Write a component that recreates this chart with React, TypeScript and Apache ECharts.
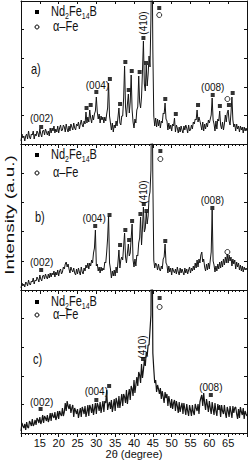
import { useEffect, useRef } from 'react';
import * as echarts from 'echarts';

const X_START = 10;
const X_STEP = 0.25;
const X_MIN = 10;
const X_MAX = 70;

// intensity (a.u.) sampled every 0.25 deg from 10 to 70 (four values per degree)
const intensityA = [
  3, 10, 6, 8, 3, 8, 10, 5, 13, 7, 5, 10, 9, 13, 5, 10, 8, 13, 11, 7,
  15, 10, 7, 13, 14, 9, 15, 12, 9, 13, 8, 16, 11, 16, 13, 18, 11, 15, 12, 18,
  11, 16, 19, 13, 14, 19, 17, 12, 20, 15, 12, 18, 13, 20, 17, 14, 21, 16, 14, 20,
  18, 22, 15, 20, 24, 19, 17, 23, 20, 32, 21, 27, 22, 34, 26, 21, 29, 24, 30, 33,
  47, 32, 25, 30, 21, 28, 24, 27, 21, 27, 23, 30, 36, 61, 28, 21, 14, 21, 12, 19,
  16, 23, 18, 27, 36, 21, 19, 28, 28, 46, 78, 37, 27, 40, 50, 31, 42, 69, 34, 22,
  16, 25, 21, 34, 37, 68, 42, 36, 47, 73, 103, 60, 53, 79, 58, 70, 88, 77, 126, 220,
  95, 28, 18, 26, 17, 25, 18, 24, 16, 23, 21, 31, 30, 41, 25, 23, 14, 21, 15, 19,
  13, 20, 18, 26, 12, 19, 16, 11, 17, 12, 18, 14, 11, 18, 14, 19, 16, 11, 19, 13,
  14, 19, 15, 22, 20, 25, 24, 34, 22, 27, 23, 19, 14, 22, 13, 20, 15, 21, 17, 24,
  21, 25, 29, 46, 24, 20, 13, 23, 15, 25, 23, 33, 19, 15, 22, 14, 20, 29, 22, 31,
  34, 23, 19, 31, 47, 24, 17, 20, 13, 20, 15, 18, 12, 18, 14, 17, 11, 17, 13, 16,
  13,
];
const intensityB = [
  2, 7, 4, 6, 3, 8, 7, 4, 10, 6, 5, 9, 8, 12, 6, 10, 9, 13, 11, 8,
  15, 11, 9, 14, 15, 11, 16, 13, 11, 16, 12, 17, 13, 17, 15, 19, 13, 18, 15, 20,
  14, 19, 21, 16, 18, 23, 21, 26, 28, 23, 26, 21, 17, 23, 20, 18, 22, 17, 15, 21,
  16, 22, 18, 15, 23, 18, 16, 22, 19, 25, 22, 27, 21, 27, 24, 30, 27, 37, 42, 60,
  24, 26, 19, 23, 17, 23, 19, 22, 20, 28, 27, 38, 52, 74, 27, 21, 12, 19, 14, 20,
  14, 23, 17, 28, 40, 22, 30, 33, 30, 44, 57, 33, 27, 37, 46, 34, 37, 52, 66, 30,
  23, 31, 24, 35, 34, 47, 52, 73, 45, 62, 83, 58, 62, 78, 66, 74, 93, 98, 120, 240,
  110, 30, 22, 27, 25, 20, 26, 21, 19, 24, 21, 31, 33, 46, 27, 25, 17, 24, 18, 22,
  15, 22, 19, 17, 21, 16, 23, 18, 15, 22, 17, 21, 18, 15, 22, 17, 21, 16, 20, 23,
  17, 22, 19, 24, 20, 27, 22, 30, 23, 31, 27, 35, 38, 28, 31, 23, 19, 26, 20, 27,
  21, 30, 38, 80, 29, 25, 18, 24, 19, 26, 21, 28, 22, 29, 23, 31, 25, 33, 27, 36,
  27, 35, 29, 33, 24, 31, 26, 30, 21, 28, 23, 27, 20, 25, 19, 24, 18, 23, 20, 22,
  20,
];
const intensityC = [
  2, 10, 7, 5, 9, 3, 11, 6, 5, 12, 10, 7, 14, 7, 9, 13, 8, 15, 13, 10,
  16, 9, 12, 18, 10, 17, 15, 12, 18, 11, 14, 20, 12, 20, 17, 15, 21, 13, 16, 22,
  14, 22, 19, 17, 25, 17, 21, 30, 22, 32, 27, 24, 29, 20, 25, 28, 16, 25, 22, 19,
  24, 15, 20, 25, 16, 26, 23, 19, 27, 16, 21, 28, 17, 28, 25, 20, 29, 18, 24, 30,
  19, 30, 27, 22, 31, 20, 26, 32, 21, 32, 30, 43, 23, 28, 31, 24, 33, 21, 27, 34,
  22, 35, 31, 25, 37, 25, 32, 39, 27, 39, 36, 30, 43, 29, 38, 44, 33, 47, 44, 37,
  53, 40, 48, 56, 47, 61, 58, 50, 69, 55, 63, 73, 67, 81, 77, 88, 88, 103, 118, 240,
  80, 64, 50, 53, 41, 48, 44, 39, 45, 34, 42, 36, 30, 41, 35, 39, 27, 37, 31, 25,
  34, 24, 30, 33, 22, 32, 27, 20, 31, 21, 26, 30, 19, 30, 24, 18, 29, 22, 17, 28,
  23, 17, 28, 21, 18, 29, 25, 22, 29, 19, 31, 35, 38, 27, 40, 30, 23, 34, 28, 21,
  32, 25, 19, 31, 24, 18, 30, 22, 17, 29, 23, 28, 16, 28, 22, 19, 28, 20, 15, 26,
  22, 16, 27, 21, 15, 27, 20, 25, 26, 19, 14, 24, 15, 26, 21, 18, 25, 14, 22, 19,
  17,
];

// Nd2Fe14B reflections (square markers) [2theta, intensity]
const ndMarksA = [
  [15.35, 17], [27.4, 36], [28.5, 39], [30.0, 52], [33.6, 65], [36.3, 40], [37.7, 82],
  [38.6, 54], [39.4, 73], [41.5, 72], [42.5, 106], [43.2, 81], [46.7, 136], [48.3, 45],
  [51.1, 30], [57.0, 39], [60.9, 49], [62.8, 38], [65.2, 39], [66.2, 51],
];
const feMarksA = [[46.7, 129], [64.8, 45]];
const ndMarksB = [
  [15.35, 20], [29.7, 64], [33.5, 75], [36.3, 45], [37.7, 60], [38.7, 50], [39.5, 69],
  [41.7, 76], [42.6, 86], [43.3, 79], [47.0, 139], [48.3, 49], [60.8, 82],
];
const feMarksB = [[47.0, 131], [64.8, 38]];
const ndMarksC = [[15.2, 24], [30.0, 33], [33.4, 47], [42.4, 74], [46.8, 135], [60.4, 38]];
const feMarksC = [[46.8, 126]];

// Miller index annotations [label, 2theta, intensity]
const hklA = [['(002)', 15.5, 26], ['(004)', 30.3, 59], ['(008)', 60.9, 57]];
const hklB = [['(002)', 15.5, 28], ['(004)', 29.4, 72], ['(008)', 60.8, 90]];
const hklC = [['(002)', 15.5, 31], ['(004)', 30.0, 42], ['(008)', 60.4, 46]];
const hkl410 = [[42.5, 121], [42.6, 98], [42.3, 86]];

const panelTags = ['a)', 'b)', 'c)'];
const phaseNames = ['Nd2Fe14B', 'α–Fe'];

const GRID_LEFT = 21;
const GRID_WIDTH = 226;
const GRID_TOPS = [1, 144, 290];
const GRID_HEIGHTS = [143, 146, 143];
const FONT = 'Liberation Sans, Arial, sans-serif';
const INK = '#111';
const TEXT_STRETCH = 1.25;

export default function App() {
  const ref = useRef<HTMLDivElement>(null);

  useEffect(() => {
    if (!ref.current) return;
    const chart = echarts.init(ref.current, undefined, { renderer: 'svg' });

    const panels = [
      { y: intensityA, nd: ndMarksA, fe: feMarksA, hkl: hklA },
      { y: intensityB, nd: ndMarksB, fe: feMarksB, hkl: hklB },
      { y: intensityC, nd: ndMarksC, fe: feMarksC, hkl: hklC },
    ];

    const grid: any[] = [];
    const xAxis: any[] = [];
    const yAxis: any[] = [];
    const series: any[] = [];
    const graphic: any[] = [];

    const labelBase = {
      show: true, position: [0, 0], align: 'center', verticalAlign: 'middle',
      formatter: '{b}', fontSize: 10, color: INK, fontFamily: FONT,
      textBorderWidth: 0, opacity: 1,
    };

    panels.forEach((p, i) => {
      const H = GRID_HEIGHTS[i];
      grid.push({ left: GRID_LEFT, top: GRID_TOPS[i], width: GRID_WIDTH, height: H });
      const isLast = i === 2;
      xAxis.push({
        type: 'value', gridIndex: i, min: X_MIN, max: X_MAX, interval: 5, position: 'bottom',
        axisLine: { show: true, onZero: false, lineStyle: { color: INK, width: 1 } },
        axisTick: { show: true, inside: false, length: 4, lineStyle: { color: INK } },
        minorTick: { show: true, splitNumber: 5, length: 2, lineStyle: { color: INK } },
        axisLabel: {
          show: isLast, showMinLabel: false, showMaxLabel: false, fontSize: 11,
          color: INK, margin: 4, fontFamily: FONT,
        },
        splitLine: { show: false },
        name: isLast ? '2θ (degree)' : '',
        nameLocation: 'middle', nameGap: 15,
        nameTextStyle: { fontSize: 11, color: INK, fontFamily: FONT },
      });
      xAxis.push({
        type: 'value', gridIndex: i, min: X_MIN, max: X_MAX, interval: 5, position: 'top',
        axisLine: { show: true, onZero: false, lineStyle: { color: INK, width: 1 } },
        axisTick: { show: true, inside: true, length: 3, lineStyle: { color: INK } },
        axisLabel: { show: false }, splitLine: { show: false },
      });
      yAxis.push({
        type: 'value', gridIndex: i, min: 0, max: H, interval: H / 5, position: 'left',
        axisLine: { show: true, onZero: false, lineStyle: { color: INK, width: 1 } },
        axisTick: { show: true, inside: true, length: 3, lineStyle: { color: INK } },
        axisLabel: { show: false }, splitLine: { show: false },
      });
      yAxis.push({
        type: 'value', gridIndex: i, min: 0, max: H, interval: H / 5, position: 'right',
        axisLine: { show: true, onZero: false, lineStyle: { color: INK, width: 1 } },
        axisTick: { show: true, inside: true, length: 3, lineStyle: { color: INK } },
        axisLabel: { show: false }, splitLine: { show: false },
      });

      const xi = 2 * i;
      const yi = 2 * i;
      series.push({
        type: 'line', xAxisIndex: xi, yAxisIndex: yi, clip: true,
        data: p.y.map((v, k) => [X_START + k * X_STEP, v]),
        showSymbol: false, symbol: 'none',
        lineStyle: { color: '#151515', width: isLast ? 1.2 : 1 },
        silent: true,
      });
      series.push({
        type: 'scatter', xAxisIndex: xi, yAxisIndex: yi, data: p.nd,
        symbol: 'rect', symbolSize: 4, itemStyle: { color: '#000' }, silent: true,
      });
      series.push({
        type: 'scatter', xAxisIndex: xi, yAxisIndex: yi, data: p.fe,
        symbol: 'circle', symbolSize: 5,
        itemStyle: { color: '#fff', borderColor: '#000', borderWidth: 1 }, silent: true,
      });
      series.push({
        type: 'scatter', xAxisIndex: xi, yAxisIndex: yi,
        data: p.hkl.map((h) => ({ name: h[0], value: [h[1], h[2]] })),
        symbol: 'circle', symbolSize: 0, itemStyle: { color: '#000' },
        label: { ...labelBase },
        silent: true,
      });
      series.push({
        type: 'scatter', xAxisIndex: xi, yAxisIndex: yi,
        data: [{ name: '(410)', value: hkl410[i] }],
        symbol: 'circle', symbolSize: 0, itemStyle: { color: '#000' },
        label: { ...labelBase, rotate: 90 },
        silent: true,
      });

      const legY1 = [12, 155, 302][i];
      const legY2 = [27, 173, 315][i];
      const tagY = [70, 218, 360][i];
      graphic.push({
        type: 'rect', shape: { x: 35, y: legY1 - 2, width: 4, height: 4 },
        style: { fill: '#000' },
      });
      graphic.push({
        type: 'text', x: 51, y: legY1, scaleY: TEXT_STRETCH,
        style: {
          text: '{a|Nd}{s|2}{a|Fe}{s|14}{a|B}',
          rich: {
            a: { fontSize: 11, fontFamily: FONT, fill: INK, lineHeight: 13 },
            s: { fontSize: 7, fontFamily: FONT, fill: INK, verticalAlign: 'bottom', padding: [3, 0, 0, 0] },
          },
          verticalAlign: 'middle',
        },
      });
      graphic.push({
        type: 'circle', shape: { cx: 37, cy: legY2, r: 2 },
        style: { fill: '#fff', stroke: '#000', lineWidth: 1 },
      });
      graphic.push({
        type: 'text', x: 53, y: legY2, scaleY: TEXT_STRETCH,
        style: {
          text: phaseNames[1], fontSize: 11, fontFamily: FONT, fill: INK,
          verticalAlign: 'middle',
        },
      });
      graphic.push({
        type: 'text', x: [31, 35, 33][i], y: tagY, scaleY: TEXT_STRETCH,
        style: {
          text: panelTags[i], fontSize: 11, fontFamily: FONT, fill: INK,
          verticalAlign: 'middle',
        },
      });
    });

    graphic.push({
      type: 'text', x: 9, y: 215, rotation: Math.PI / 2, scaleX: 1.45,
      style: {
        text: 'Intensity (a.u.)', fontSize: 13, fontFamily: FONT, fill: INK,
        align: 'center', verticalAlign: 'middle',
      },
    });

    chart.setOption({
      animation: false,
      backgroundColor: '#fff',
      grid, xAxis, yAxis, series, graphic,
    });

    return () => chart.dispose();
  }, []);

  return (
    <div
      ref={ref}
      style={{ position: 'fixed', left: 0, top: 0, width: 249, height: 461, background: '#fff' }}
    />
  );
}
